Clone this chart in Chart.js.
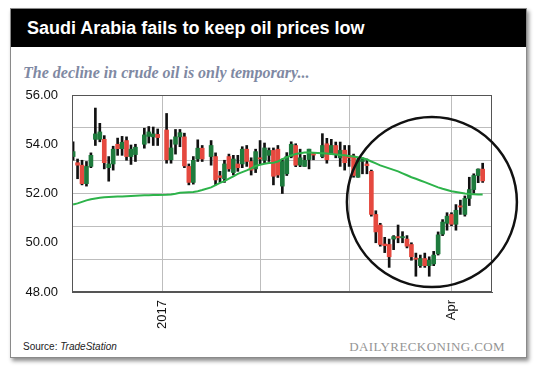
<!DOCTYPE html>
<html>
<head>
<meta charset="utf-8">
<script src="https://cdn.jsdelivr.net/npm/chart.js@4.4.0/dist/chart.umd.min.js"></script>
<style>
  html, body { margin: 0; padding: 0; background: #fff; }
  #wrap { position: relative; width: 540px; height: 370px; overflow: hidden; }
  .card {
    position: absolute; left: 10px; top: 8px; width: 515px; height: 348px;
    border: 1px solid #8a8a8a; background: #fff;
    box-shadow: 2px 3px 4px rgba(0, 0, 0, 0.45);
  }
  .head {
    position: absolute; left: 0; top: 0; right: 0; height: 38px;
    background: #000; color: #fff; padding-left: 16px;
    font: bold 18px "Liberation Sans", Arial, sans-serif; line-height: 38px;
  }
  .sub {
    position: absolute; left: 12px; top: 55px; color: #7f89a3;
    font: italic bold 16px "Liberation Serif", serif;
  }
  .src {
    position: absolute; left: 12px; top: 332px; color: #222;
    font: 10px "Liberation Sans", Arial, sans-serif;
  }
  .brand {
    position: absolute; right: 21px; top: 330px; color: #959595;
    font: 13px "Liberation Serif", serif; letter-spacing: 0.4px;
  }
  #chart { position: absolute; left: 0; top: 0; }
</style>
</head>
<body>
<div id="wrap">
  <div class="card">
    <div class="head">Saudi Arabia fails to keep oil prices low</div>
    <div class="sub">The decline in crude oil is only temporary...</div>
    <div class="src">Source: <i>TradeStation</i></div>
    <div class="brand">DAILYRECKONING.COM</div>
  </div>
  <canvas id="chart" width="540" height="370"></canvas>
</div>
<script>
// daily bars, one slot per weekday (null = market holiday)
const openP = [53.50,53.25,53.15,52.40,53.10,54.20,54.20,54.20,53.05,53.20,
  54.00,53.82,54.15,53.50,53.58,null,54.00,54.32,54.30,54.40,
  null,54.58,53.37,54.00,54.30,54.30,53.10,52.45,53.40,53.84,
  null,53.50,53.50,52.72,52.60,53.50,52.85,53.20,53.20,53.80,
  53.30,53.00,53.45,53.35,53.55,53.75,53.80,52.30,52.80,53.50,
  53.95,53.15,53.10,53.38,53.62,null,53.50,54.02,53.60,53.95,
  53.45,53.76,53.55,53.52,52.66,53.30,53.20,52.90,51.15,50.72,
  49.95,49.93,50.15,50.25,50.20,50.15,49.93,49.38,49.07,49.36,
  49.07,49.14,49.55,50.35,50.79,51.15,50.75,51.50,51.15,51.80,
  52.16,52.73,52.99];
const highP = [54.10,53.40,53.35,53.30,53.65,55.47,54.85,54.35,53.50,53.92,
  54.25,54.32,54.30,53.97,54.00,null,54.65,54.72,54.70,54.62,
  null,55.25,54.18,54.60,54.60,54.45,53.20,53.50,54.18,53.95,
  null,54.15,53.65,52.90,53.35,53.60,53.55,53.55,53.90,53.95,
  53.45,53.80,54.15,54.05,53.85,53.85,53.95,53.40,53.66,54.10,
  54.02,53.80,53.55,53.80,53.66,null,54.43,54.24,54.20,54.09,
  54.09,53.95,53.95,53.60,53.45,53.45,53.40,52.95,51.30,50.79,
  50.22,50.15,50.29,50.72,50.45,50.29,50.00,49.58,49.50,49.58,
  49.43,49.65,50.44,50.94,51.22,51.22,51.55,51.73,51.90,52.66,
  52.80,53.00,53.23];
const lowP = [53.35,52.60,52.35,52.30,53.05,53.95,54.10,53.00,52.50,52.95,
  53.55,53.55,53.35,53.18,53.30,null,53.84,54.05,53.95,53.95,
  null,53.23,53.23,53.60,53.90,53.05,52.35,52.38,53.30,53.30,
  null,53.15,52.35,52.45,52.45,52.90,52.75,52.90,53.05,53.10,
  52.75,52.85,53.20,53.25,53.30,52.35,52.65,52.00,52.73,53.45,
  53.09,53.09,53.10,53.00,53.37,null,53.45,53.23,53.60,53.45,
  53.10,52.95,53.10,52.66,52.66,52.80,52.80,51.08,50.00,49.86,
  49.60,49.00,49.72,50.00,50.00,49.79,49.29,48.64,49.00,49.00,
  48.64,49.07,49.50,50.29,50.51,50.69,50.51,51.15,51.08,51.51,
  52.01,52.44,52.45];
const closeP = [53.70,53.15,52.40,53.10,53.55,54.42,54.50,53.25,53.20,53.80,
  53.82,54.08,53.50,53.80,53.88,null,54.38,54.50,54.42,54.27,
  null,53.37,53.85,54.30,54.47,53.12,52.45,53.35,53.84,53.40,
  null,53.95,52.55,52.65,53.20,53.00,53.40,53.05,53.80,53.30,
  52.95,53.70,53.40,53.85,53.75,52.70,52.75,53.30,53.50,54.00,
  53.15,53.45,53.35,53.80,53.56,null,53.95,53.37,53.95,53.60,
  53.75,53.25,53.45,52.73,53.37,53.38,53.13,51.15,50.44,49.93,
  49.88,49.43,50.25,50.20,50.25,49.86,49.43,49.33,49.36,49.07,
  49.29,49.50,50.32,50.84,51.08,50.75,51.32,51.45,51.80,52.16,
  52.73,52.99,52.51];
const movingAvg = [51.55,51.60,51.66,51.72,51.77,51.80,51.83,51.85,51.86,51.87,
  51.88,51.88,51.89,51.90,51.91,null,51.93,51.93,51.94,51.94,
  null,51.95,51.96,51.99,52.03,52.04,52.05,52.06,52.09,52.14,
  null,52.25,52.34,52.43,52.50,52.60,52.70,52.80,52.87,52.94,
  53.02,53.12,53.17,53.21,53.24,53.25,53.30,53.40,53.48,53.55,
  53.60,53.63,53.66,53.66,53.65,null,53.63,53.62,53.60,53.58,
  53.56,53.55,53.52,53.50,53.47,53.44,53.38,53.30,53.22,53.14,
  53.08,53.02,52.96,52.90,52.82,52.74,52.66,52.60,52.53,52.46,
  52.39,52.32,52.25,52.19,52.14,52.09,52.06,52.03,52.00,51.98,
  51.97,51.96,51.96];

// month boundaries on the day axis (Jan, Feb, Mar, Apr)
const monthTicks = [20, 42, 62, 85];
const monthLabels = ["2017", "", "", "Apr"];
const priceLabels = [48, 50, 52, 54, 56];
const gridLevels = [48, 49.3333, 50.6667, 52, 53.3333, 54.6667, 56];

const UP = "#1e7b3d", DOWN = "#e5493f";

const wicks = [], bodies = [], bodyColors = [], avgLine = [];
openP.forEach((o, i) => {
  if (o !== null) {
    wicks.push({ x: i, y: [lowP[i], highP[i]] });
    bodies.push({ x: i, y: [o, closeP[i]] });
    bodyColors.push(closeP[i] >= o ? UP : DOWN);
  }
  if (movingAvg[i] !== null) avgLine.push({ x: i, y: movingAvg[i] });
});

const frame = {
  id: "frame",
  afterDatasetsDraw(chart) {
    const a = chart.chartArea, ctx = chart.ctx;
    ctx.save();
    ctx.strokeStyle = "#555";
    ctx.lineWidth = 1;
    ctx.strokeRect(a.left + 0.5, a.top + 0.5, a.right - a.left - 1, a.bottom - a.top - 1);
    ctx.restore();
  },
  afterDraw(chart) {
    // the hand-drawn ring around the March dip
    const ctx = chart.ctx;
    const cx = chart.scales.x.getPixelForValue(80.6);
    const cy = chart.scales.y.getPixelForValue(51.65);
    ctx.save();
    ctx.strokeStyle = "#111";
    ctx.lineWidth = 2.5;
    ctx.beginPath();
    ctx.arc(cx, cy, 85, 0, Math.PI * 2);
    ctx.stroke();
    ctx.restore();
  }
};

new Chart(document.getElementById("chart"), {
  data: {
    datasets: [
      { type: "line", data: avgLine, borderColor: "#2db34a", borderWidth: 2,
        pointRadius: 0, tension: 0, spanGaps: true, order: 0 },
      { type: "bar", data: bodies, backgroundColor: bodyColors,
        barThickness: 4, grouped: false, minBarLength: 1, order: 1 },
      { type: "bar", data: wicks, backgroundColor: "#111",
        barThickness: 2, grouped: false, order: 2 }
    ]
  },
  plugins: [frame],
  options: {
    responsive: false,
    animation: false,
    layout: { padding: { left: 0, top: 95, right: 48, bottom: 0 } },
    plugins: { legend: { display: false }, tooltip: { enabled: false } },
    scales: {
      x: {
        type: "linear", position: "bottom", min: -0.25, max: 94.1, offset: false,
        afterFit: (s) => { s.height = 78; },
        afterBuildTicks: (s) => { s.ticks = monthTicks.map((v) => ({ value: v })); },
        ticks: {
          autoSkip: false, maxRotation: 90, minRotation: 90, padding: 8,
          color: "#111", font: { family: "Liberation Sans", size: 13 },
          callback: (v) => monthLabels[monthTicks.indexOf(v)] || ""
        },
        grid: { color: "#bdbdbd", drawTicks: false, offset: false },
        border: { color: "#555" }
      },
      y: {
        position: "left", min: 48, max: 56,
        afterFit: (s) => { s.width = 72; },
        afterBuildTicks: (s) => { s.ticks = priceLabels.map((v) => ({ value: v })); },
        ticks: {
          padding: 6, color: "#111", font: { family: "Liberation Sans", size: 13 },
          callback: (v) => v.toFixed(2)
        },
        grid: { display: false },
        border: { color: "#555" }
      },
      yGrid: {
        position: "left", min: 48, max: 56,
        afterFit: (s) => { s.width = 0; },
        afterBuildTicks: (s) => { s.ticks = gridLevels.map((v) => ({ value: v })); },
        ticks: { display: false },
        grid: { color: "#bdbdbd", drawTicks: false },
        border: { display: false }
      }
    }
  }
});
</script>
</body>
</html>
